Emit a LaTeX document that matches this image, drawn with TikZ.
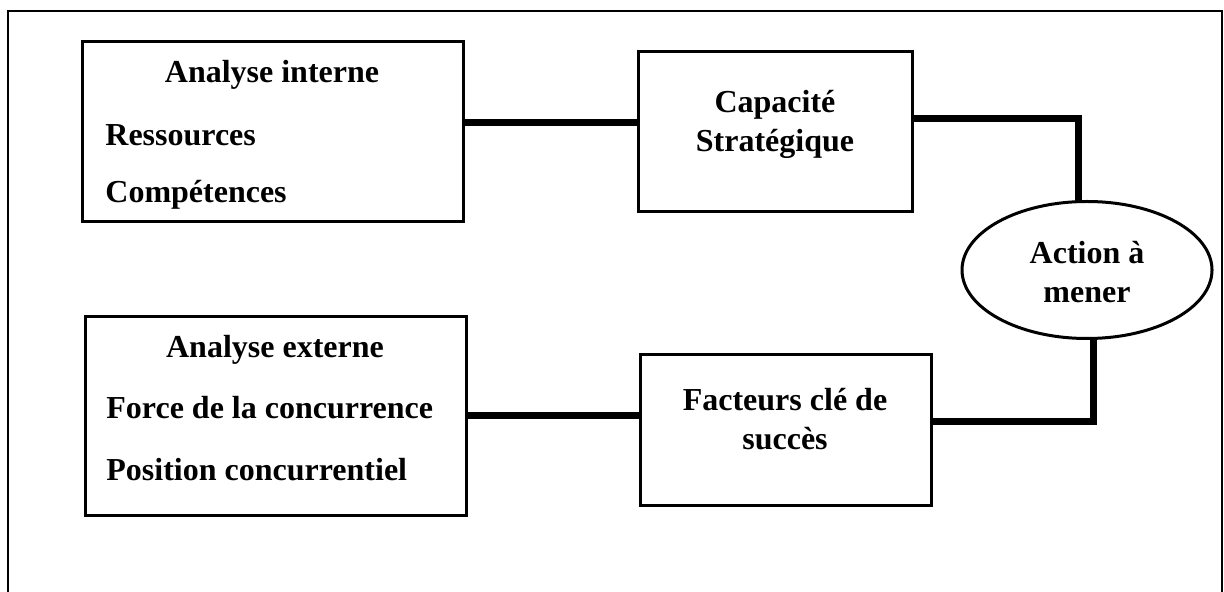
\documentclass[tikz,border=0pt]{standalone}
\usepackage{fontspec}
\setmainfont{Liberation Serif}
\usetikzlibrary{shapes.geometric}
\tikzset{
  boite/.style={draw, line width=1.5pt, inner sep=0pt, outer sep=0pt},
  lien/.style={line width=3.5pt},
  texte/.style={inner sep=0pt, font=\fontsize{16}{19.5}\selectfont\bfseries, align=center}
}

\begin{document}
\begin{tikzpicture}[x=0.5pt, y=-0.5pt]
			%%%%% START %%%%%
			\useasboundingbox (0, 0) rectangle (1224, 592);
			\draw[line width=1pt] (8, 592) -- (8, 11) -- (1222, 11) -- (1222, 592);
			
			% boites
			\node[boite, minimum width=190.5pt, minimum height=90pt] (intBox) at (272.5, 132) {};
			\node[boite, minimum width=137pt, minimum height=80pt] (capBox) at (775, 132) {};
			\node[boite, minimum width=190.5pt, minimum height=99pt] (extBox) at (275.5, 416) {};
			\node[boite, minimum width=145.5pt, minimum height=75pt] (facBox) at (785.5, 430) {};
			\node[boite, ellipse, minimum width=125pt, minimum height=68.5pt] (act) at (1087, 270) {};
			
			% textes (base = ligne du bas)
			\node[texte, anchor=base] (intT) at (272, 83) {Analyse interne};
			\node[texte, anchor=base west] (intR) at (105, 146) {Ressources};
			\node[texte, anchor=base west] (intC) at (105, 203) {Compétences};
			
			\node[texte, anchor=base] (capT) at (775, 152) {Capacité\\Stratégique};
			\node[texte, anchor=base] (actT) at (1087, 303) {Action à\\mener};
			
			\node[texte, anchor=base] (extT) at (275, 358) {Analyse externe};
			\node[texte, anchor=base west] (extF) at (106, 419) {Force de la concurrence};
			\node[texte, anchor=base west] (extP) at (106, 480) {Position concurrentiel};
			
			\node[texte, anchor=base] (facT) at (785, 450) {Facteurs clé de\\succès};
			
			% liens
			\draw[lien] ([yshift=4.5pt]intBox.east) -- ([yshift=4.5pt]capBox.west);
			\draw[lien] ([yshift=6.5pt]capBox.east) -| ([xshift=-4.5pt]act.north);
			\draw[lien] ([xshift=3pt]act.south) |- ([yshift=4pt]facBox.east);
			\draw[lien] (extBox.east) -- (extBox.east -| facBox.west);
			
			%%%%% END %%%%%
\end{tikzpicture}
\end{document}
